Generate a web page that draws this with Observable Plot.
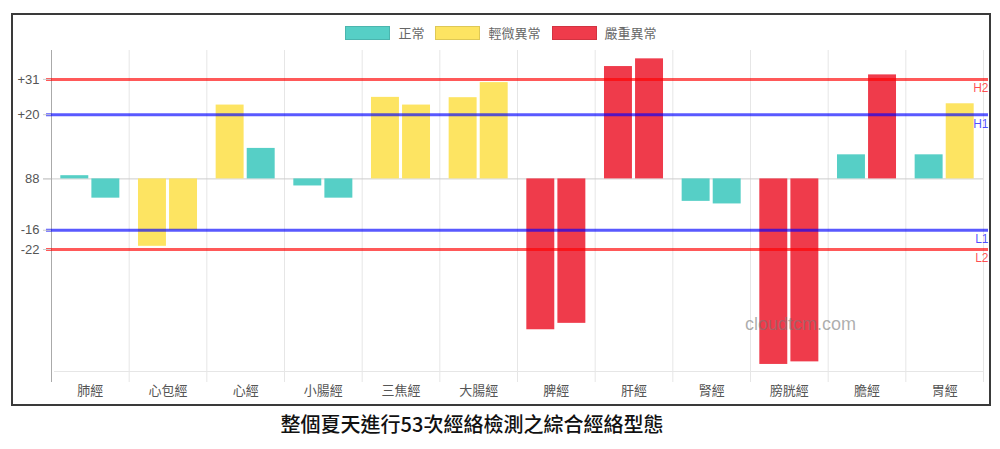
<!DOCTYPE html>
<html>
<head>
<meta charset="utf-8">
<script src="https://cdn.jsdelivr.net/npm/d3@7"></script>
<script src="https://cdn.jsdelivr.net/npm/@observablehq/plot@0.6"></script>
<style>
  body { margin: 0; background: #fff; font-family: "Liberation Sans", "Noto Sans CJK TC", sans-serif; }
  #page { position: relative; width: 1000px; height: 449px; overflow: hidden; }
  #frame { position: absolute; left: 11px; top: 13px; width: 976px; height: 389px; border: 2px solid #3a3a3a; }
  #legend { height: 35px; display: flex; justify-content: center; align-items: center; font-size: 13px; color: #666; }
  .item { display: flex; align-items: center; margin: 0 5.5px; }
  .sw { width: 43px; height: 12px; margin-right: 8px; border: 1px solid rgba(0,0,0,0.12); }
  #chart svg { display: block; overflow: visible; }
  #watermark { position: absolute; left: 745px; top: 314px; font-size: 18px; color: rgba(120,120,120,0.6); font-family: "Liberation Sans", sans-serif; pointer-events: none; }
  #title { position: absolute; left: 0; top: 411px; width: 944px; text-align: center; font-size: 20px; font-weight: 500; color: #111; font-family: "Noto Sans CJK TC", sans-serif; line-height: 26px; }
</style>
</head>
<body>
<div id="page">
  <div id="frame">
    <div id="legend"></div>
    <div id="chart"></div>
  </div>
  <div id="watermark">cloudtcm.com</div>
  <div id="title">整個夏天進行53次經絡檢測之綜合經絡型態</div>
</div>
<script>
const categories = ["肺經","心包經","心經","小腸經","三焦經","大腸經","脾經","肝經","腎經","膀胱經","膽經","胃經"];
const leftValues  = [1, -21, 23, -2.2, 25.4, 25.3, -47, 35, -7, -57.8, 7.5, 7.5];
const rightValues = [-6, -16, 9.5, -6, 23, 30, -45, 37.4, -7.8, -57, 32.4, 23.4];
const leftStatus  = ["正常","輕微異常","輕微異常","正常","輕微異常","輕微異常","嚴重異常","嚴重異常","正常","嚴重異常","正常","正常"];
const rightStatus = ["正常","輕微異常","正常","正常","輕微異常","輕微異常","嚴重異常","嚴重異常","正常","嚴重異常","嚴重異常","輕微異常"];
const statusNames  = ["正常","輕微異常","嚴重異常"];
const statusColors = ["#56cfc6","#fde462","#ef3b4b"];
const yTicks      = [31, 20, 0, -16, -22];
const yTickLabels = ["+31","+20","88","-16","-22"];
const limitValues = [31, 20, -16, -22];
const limitLabels = ["H2","H1","L1","L2"];
const limitColors = ["#ff0000","#0000ff","#0000ff","#ff0000"];

// legend
const legend = document.getElementById("legend");
statusNames.forEach((n, i) => {
  const it = document.createElement("div");
  it.className = "item";
  const sw = document.createElement("div");
  sw.className = "sw";
  sw.style.background = statusColors[i];
  const t = document.createElement("span");
  t.textContent = n;
  it.appendChild(sw); it.appendChild(t);
  legend.appendChild(it);
});

const W = 976, H = 354, mL = 38, mR = 6, mT = 0, mB = 33;
const bw = (W - mL - mR) / categories.length;
const leftData  = categories.map((c, i) => ({cat: c, value: leftValues[i], status: leftStatus[i]}));
const rightData = categories.map((c, i) => ({cat: c, value: rightValues[i], status: rightStatus[i]}));
const limits = limitValues.map((v, i) => ({value: v, label: limitLabels[i], color: limitColors[i]}));

const groupOffset = bw * 0.1;           // category percentage 0.8
const slot = bw * 0.4;                   // each of two bars
const barPad = slot * 0.05;              // bar percentage 0.9
const inA = groupOffset + barPad;
const inB = groupOffset + slot + barPad;

const plot = Plot.plot({
  width: W, height: H,
  marginLeft: mL, marginRight: mR, marginTop: mT, marginBottom: mB,
  style: {fontFamily: '"Liberation Sans", "Noto Sans CJK TC", sans-serif', fontSize: "13px", color: "#666", background: "transparent", overflow: "visible"},
  x: {domain: categories, padding: 0, round: false, label: null},
  y: {domain: [-60, 40], label: null},
  color: {domain: statusNames, range: statusColors},
  marks: [
    Plot.ruleX(categories, {x: d => d, dx: -bw / 2, stroke: "#e6e6e6", insetBottom: -11}),
    Plot.ruleX(categories.slice(-1), {x: d => d, dx: bw / 2, stroke: "#e6e6e6", insetBottom: -11}),
    Plot.ruleY([-60], {stroke: "#e6e6e6", insetLeft: 3}),
    Plot.ruleY([0], {stroke: "#cccccc", insetLeft: -8}),
    Plot.ruleX(categories.slice(0, 1), {x: d => d, dx: -bw / 2, stroke: "#aaaaaa", insetBottom: -11}),
    Plot.barY(leftData, {x: "cat", y: "value", fill: "status", insetLeft: inA, insetRight: bw - inA - (slot - 2 * barPad)}),
    Plot.barY(rightData, {x: "cat", y: "value", fill: "status", insetLeft: inB, insetRight: bw - inB - (slot - 2 * barPad)}),
    Plot.ruleY(limits, {y: "value", stroke: "color", strokeWidth: 3, strokeOpacity: 0.65, insetLeft: -5, insetRight: -5}),
    Plot.text(limits, {y: "value", text: "label", fill: "color", fillOpacity: 0.7, frameAnchor: "right", textAnchor: "end", dx: 5, dy: 9, fontSize: 12}),
    Plot.axisY({ticks: yTicks, tickFormat: d => yTickLabels[yTicks.indexOf(d)], tickSize: 8, tickPadding: 4, stroke: "#cccccc", fill: "#555", fontSize: 13, label: null}),
    Plot.axisX({tickSize: 0, tickPadding: 14, fill: "#555", fontSize: 13, label: null})
  ]
});
document.getElementById("chart").appendChild(plot);
</script>
</body>
</html>
